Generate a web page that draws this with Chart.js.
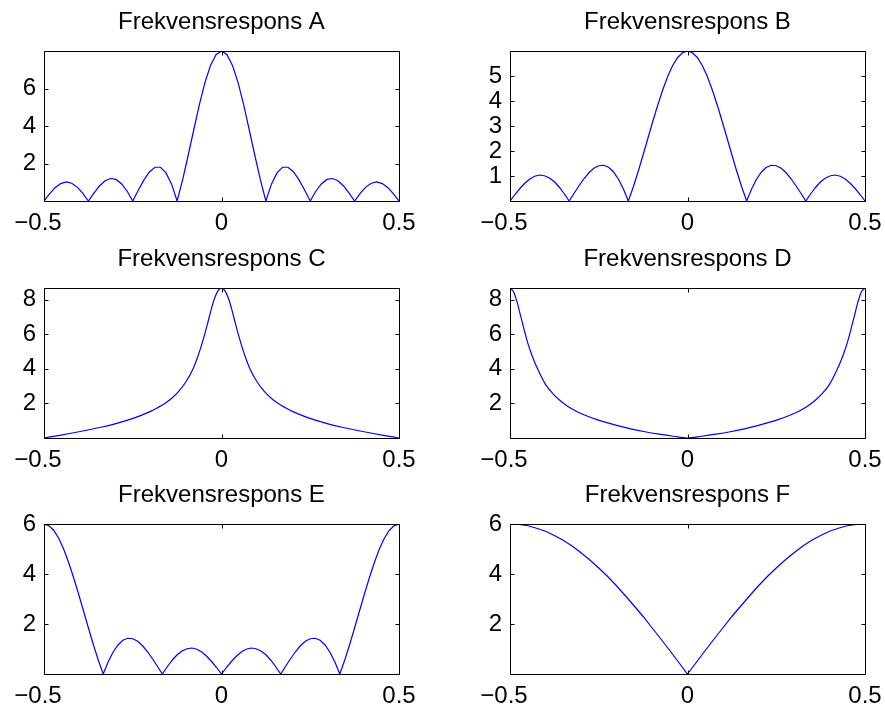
<!DOCTYPE html>
<html>
<head>
<meta charset="utf-8">
<script src="https://cdn.jsdelivr.net/npm/chart.js@4.4.1/dist/chart.umd.min.js"></script>
<style>
  html, body { margin: 0; padding: 0; background: #fff; overflow: hidden; }
  canvas { position: absolute; }
</style>
</head>
<body>
<canvas id="pA" width="419" height="236" style="left:0px;top:0px"></canvas>
<canvas id="pB" width="419" height="236" style="left:466px;top:0px"></canvas>
<canvas id="pC" width="419" height="236" style="left:0px;top:237px"></canvas>
<canvas id="pD" width="419" height="236" style="left:466px;top:237px"></canvas>
<canvas id="pE" width="419" height="236" style="left:0px;top:473px"></canvas>
<canvas id="pF" width="419" height="236" style="left:466px;top:473px"></canvas>
<script>
// normalised frequency axis
const xTicks = [-0.5, 0, 0.5];

const freqA = [-0.5, -0.4844, -0.4688, -0.4531, -0.4375, -0.4219, -0.4063, -0.3906, -0.375, -0.3594, -0.3438, -0.3281, -0.3125, -0.2969, -0.2813, -0.2656, -0.25, -0.2344, -0.2188, -0.2031, -0.1875, -0.1719, -0.1563, -0.1406, -0.125, -0.1094, -0.0938, -0.0781, -0.0625, -0.0469, -0.0313, -0.0156,
  0, 0.0156, 0.0313, 0.0469, 0.0625, 0.0781, 0.0938, 0.1094, 0.125, 0.1406, 0.1563, 0.1719, 0.1875, 0.2031, 0.2188, 0.2344, 0.25, 0.2656, 0.2813, 0.2969, 0.3125, 0.3281, 0.3438, 0.3594, 0.375, 0.3906, 0.4063, 0.4219, 0.4375, 0.4531, 0.4688, 0.4844, 0.5];
const respA = [0, 0.38, 0.71, 0.93, 1.02, 0.95, 0.74, 0.41, 0, 0.42, 0.80, 1.08, 1.20, 1.15, 0.91, 0.52, 0, 0.57, 1.11, 1.55, 1.80, 1.80, 1.50, 0.90, 0, 1.14, 2.44, 3.80, 5.13, 6.30, 7.21, 7.80,
  8, 7.80, 7.21, 6.30, 5.13, 3.80, 2.44, 1.14, 0, 0.90, 1.50, 1.80, 1.80, 1.55, 1.11, 0.57, 0, 0.52, 0.91, 1.15, 1.20, 1.08, 0.80, 0.42, 0, 0.41, 0.74, 0.95, 1.02, 0.93, 0.71, 0.38, 0];

const freqB = [-0.5, -0.4861, -0.4722, -0.4583, -0.4444, -0.4306, -0.4167, -0.4028, -0.3889, -0.375, -0.3611, -0.3472, -0.3333, -0.3194, -0.3056, -0.2917, -0.2778, -0.2639, -0.25, -0.2361, -0.2222, -0.2083, -0.1944, -0.1806, -0.1667, -0.1528, -0.1389, -0.125, -0.1111, -0.0972, -0.0833, -0.0694, -0.0556, -0.0417, -0.0278, -0.0139,
  0, 0.0139, 0.0278, 0.0417, 0.0556, 0.0694, 0.0833, 0.0972, 0.1111, 0.125, 0.1389, 0.1528, 0.1667, 0.1806, 0.1944, 0.2083, 0.2222, 0.2361, 0.25, 0.2639, 0.2778, 0.2917, 0.3056, 0.3194, 0.3333, 0.3472, 0.3611, 0.375, 0.3889, 0.4028, 0.4167, 0.4306, 0.4444, 0.4583, 0.4722, 0.4861, 0.5];
const respB = [0, 0.26, 0.50, 0.71, 0.88, 0.99, 1.04, 1.01, 0.92, 0.77, 0.55, 0.29, 0, 0.31, 0.61, 0.89, 1.13, 1.31, 1.41, 1.43, 1.35, 1.16, 0.87, 0.48, 0, 0.56, 1.18, 1.85, 2.53, 3.21, 3.86, 4.46, 4.99, 5.42, 5.74, 5.93,
  6, 5.93, 5.74, 5.42, 4.99, 4.46, 3.86, 3.21, 2.53, 1.85, 1.18, 0.56, 0, 0.48, 0.87, 1.16, 1.35, 1.43, 1.41, 1.31, 1.13, 0.89, 0.61, 0.31, 0, 0.29, 0.55, 0.77, 0.92, 1.01, 1.04, 0.99, 0.88, 0.71, 0.50, 0.26, 0];

const freqC = [-0.5, -0.46, -0.42, -0.38, -0.34, -0.3, -0.26, -0.23, -0.2, -0.18, -0.16, -0.14, -0.12, -0.1, -0.08, -0.07, -0.06, -0.05, -0.04, -0.03, -0.02, -0.01,
  0, 0.01, 0.02, 0.03, 0.04, 0.05, 0.06, 0.07, 0.08, 0.1, 0.12, 0.14, 0.16, 0.18, 0.2, 0.23, 0.26, 0.3, 0.34, 0.38, 0.42, 0.46, 0.5];
const respC = [0, 0.14, 0.29, 0.45, 0.62, 0.82, 1.06, 1.28, 1.54, 1.75, 1.99, 2.30, 2.71, 3.25, 4.0, 4.52, 5.12, 5.8, 6.55, 7.35, 8.05, 8.5,
  8.67, 8.5, 8.05, 7.35, 6.55, 5.8, 5.12, 4.52, 4.0, 3.25, 2.71, 2.30, 1.99, 1.75, 1.54, 1.28, 1.06, 0.82, 0.62, 0.45, 0.29, 0.14, 0];

const freqD = [-0.5, -0.49, -0.48, -0.47, -0.46, -0.45, -0.44, -0.43, -0.42, -0.4, -0.38, -0.36, -0.34, -0.32, -0.3, -0.27, -0.24, -0.2, -0.16, -0.12, -0.08, -0.04,
  0, 0.04, 0.08, 0.12, 0.16, 0.2, 0.24, 0.27, 0.3, 0.32, 0.34, 0.36, 0.38, 0.4, 0.42, 0.43, 0.44, 0.45, 0.46, 0.47, 0.48, 0.49, 0.5];
const respD = [8.67, 8.45, 7.85, 7.05, 6.25, 5.5, 4.88, 4.35, 3.9, 3.1, 2.58, 2.18, 1.87, 1.62, 1.42, 1.17, 0.96, 0.73, 0.53, 0.36, 0.22, 0.10,
  0, 0.10, 0.22, 0.36, 0.53, 0.73, 0.96, 1.17, 1.42, 1.62, 1.87, 2.18, 2.58, 3.1, 3.9, 4.35, 4.88, 5.5, 6.25, 7.05, 7.85, 8.45, 8.67];

const freqE = freqB;
const respE = [6, 5.93, 5.74, 5.42, 4.99, 4.46, 3.86, 3.21, 2.53, 1.85, 1.18, 0.56, 0, 0.48, 0.87, 1.16, 1.35, 1.43, 1.41, 1.31, 1.13, 0.89, 0.61, 0.31, 0, 0.29, 0.55, 0.77, 0.92, 1.01, 1.04, 0.99, 0.88, 0.71, 0.50, 0.26,
  0, 0.26, 0.50, 0.71, 0.88, 0.99, 1.04, 1.01, 0.92, 0.77, 0.55, 0.29, 0, 0.31, 0.61, 0.89, 1.13, 1.31, 1.41, 1.43, 1.35, 1.16, 0.87, 0.48, 0, 0.56, 1.18, 1.85, 2.53, 3.21, 3.86, 4.46, 4.99, 5.42, 5.74, 5.93, 6];

const freqF = [-0.5, -0.475, -0.45, -0.425, -0.4, -0.375, -0.35, -0.325, -0.3, -0.275, -0.25, -0.225, -0.2, -0.175, -0.15, -0.125, -0.1, -0.075, -0.05, -0.025,
  0, 0.025, 0.05, 0.075, 0.1, 0.125, 0.15, 0.175, 0.2, 0.225, 0.25, 0.275, 0.3, 0.325, 0.35, 0.375, 0.4, 0.425, 0.45, 0.475, 0.5];
const respF = [6, 5.98, 5.93, 5.83, 5.71, 5.54, 5.35, 5.12, 4.85, 4.56, 4.24, 3.90, 3.53, 3.13, 2.72, 2.30, 1.85, 1.40, 0.94, 0.47,
  0, 0.47, 0.94, 1.40, 1.85, 2.30, 2.72, 3.13, 3.53, 3.90, 4.24, 4.56, 4.85, 5.12, 5.35, 5.54, 5.71, 5.83, 5.93, 5.98, 6];

const FONT = "'Liberation Sans', Arial, Helvetica, sans-serif";
Chart.defaults.font.family = FONT;
Chart.defaults.color = '#000';

// box round the axes with inward ticks on all four sides (matlab style)
const frame = {
  id: 'frame',
  afterDatasetsDraw(chart) {
    const { ctx, chartArea: a, scales: { x, y } } = chart;
    const L = Math.round(a.left) + 0.5, R = Math.round(a.right) + 0.5;
    const T = Math.round(a.top) + 0.5, B = Math.round(a.bottom) + 0.5;
    const len = 4;
    ctx.save();
    ctx.strokeStyle = '#000';
    ctx.lineWidth = 1;
    ctx.beginPath();
    ctx.rect(L, T, R - L, B - T);
    x.ticks.forEach(t => {
      const px = Math.round(x.getPixelForValue(t.value)) + 0.5;
      ctx.moveTo(px, B); ctx.lineTo(px, B - len);
      ctx.moveTo(px, T); ctx.lineTo(px, T + len);
    });
    y.ticks.forEach(t => {
      const py = Math.round(y.getPixelForValue(t.value)) + 0.5;
      ctx.moveTo(L, py); ctx.lineTo(L + len, py);
      ctx.moveTo(R, py); ctx.lineTo(R - len, py);
    });
    ctx.stroke();
    ctx.restore();
  }
};

function xLabel(v) {
  if (v < 0) return '\u2212' + Math.abs(v) + '\u2002';
  return String(v);
}

function subplot(id, title, freq, resp, yMax, yTicks, smooth) {
  new Chart(document.getElementById(id), {
    type: 'line',
    data: {
      datasets: [{
        data: freq.map((f, i) => ({ x: f, y: resp[i] })),
        borderColor: '#0000ff',
        borderWidth: 1.2,
        pointRadius: 0,
        fill: false,
        cubicInterpolationMode: smooth ? 'monotone' : 'default',
        tension: 0
      }]
    },
    options: {
      responsive: false,
      animation: false,
      events: [],
      layout: { padding: { right: 20 } },
      plugins: {
        legend: { display: false },
        tooltip: { enabled: false },
        title: {
          display: true,
          text: title,
          fullSize: false,
          color: '#000',
          font: { size: 24, weight: 'normal', family: FONT },
          padding: { top: 7.5, bottom: 14.7 }
        }
      },
      scales: {
        x: {
          type: 'linear',
          min: -0.5,
          max: 0.5,
          grid: { display: false, drawTicks: false },
          border: { display: false },
          afterBuildTicks: s => { s.ticks = xTicks.map(v => ({ value: v })); },
          afterFit: s => { s.height = 35; s.paddingLeft = 0; s.paddingRight = 0; },
          ticks: { padding: 8, maxRotation: 0, autoSkip: false, font: { size: 24 }, callback: v => xLabel(v) }
        },
        y: {
          min: 0,
          max: yMax,
          grid: { display: false, drawTicks: false },
          border: { display: false },
          afterBuildTicks: s => { s.ticks = yTicks.map(v => ({ value: v })); },
          afterFit: s => { s.width = 44; s.paddingTop = 0; s.paddingBottom = 0; },
          ticks: { padding: 8, font: { size: 24 }, callback: v => String(v) }
        }
      }
    },
    plugins: [frame]
  });
}

subplot('pA', 'Frekvensrespons A', freqA, respA, 8, [2, 4, 6], false);
subplot('pB', 'Frekvensrespons B', freqB, respB, 6, [1, 2, 3, 4, 5], false);
subplot('pC', 'Frekvensrespons C', freqC, respC, 8.67, [2, 4, 6, 8], true);
subplot('pD', 'Frekvensrespons D', freqD, respD, 8.67, [2, 4, 6, 8], true);
subplot('pE', 'Frekvensrespons E', freqE, respE, 6, [2, 4, 6], false);
subplot('pF', 'Frekvensrespons F', freqF, respF, 6, [2, 4, 6], false);
</script>
</body>
</html>
